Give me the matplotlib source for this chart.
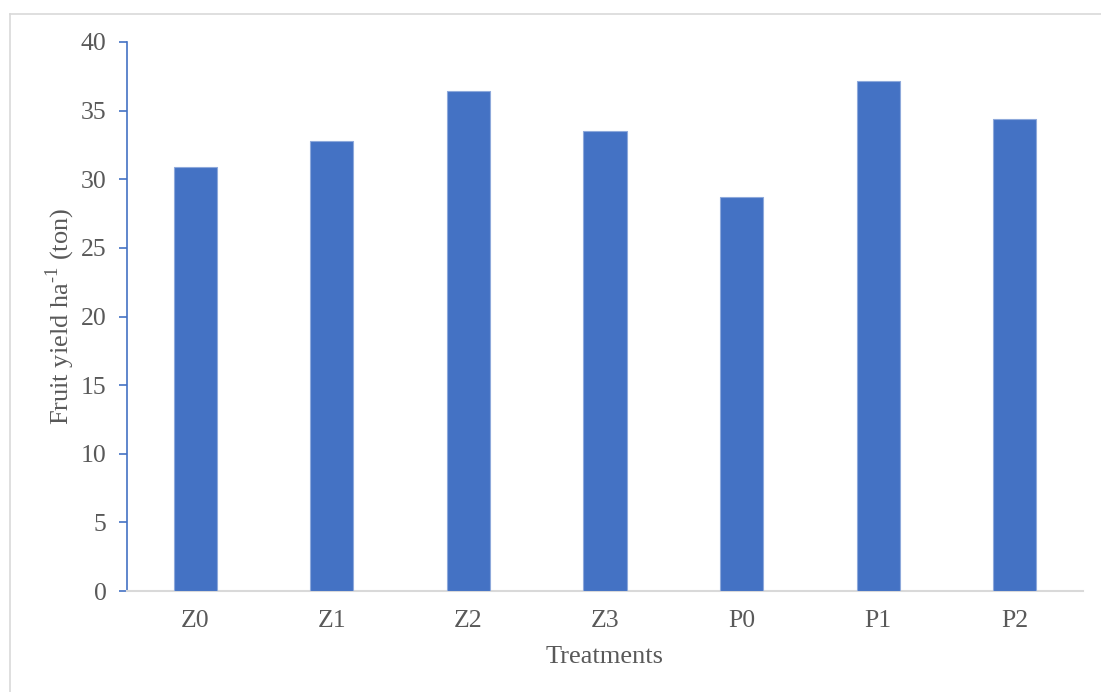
import matplotlib.pyplot as plt
from matplotlib.lines import Line2D

treatments = ["Z0", "Z1", "Z2", "Z3", "P0", "P1", "P2"]
fruit_yield = [30.87, 32.77, 36.41, 33.5, 28.68, 37.14, 34.37]
y_ticks = [0, 5, 10, 15, 20, 25, 30, 35, 40]

plt.rcParams["font.family"] = ["Liberation Serif", "DejaVu Serif"]
plt.rcParams["mathtext.fontset"] = "custom"
plt.rcParams["mathtext.rm"] = "Liberation Serif"

W, H = 1101, 692
fig = plt.figure(figsize=(W / 100, H / 100), dpi=100)
ax = fig.add_axes([127 / W, (H - 591) / H, (1083 - 127) / W, (591 - 42) / H])

blue = "#4472C4"
grey_txt = "#595959"

x = range(len(treatments))
ax.bar(x, fruit_yield, width=0.315, color=blue, edgecolor="#8EA9DB", linewidth=0.8, zorder=3)

ax.set_xlim(-0.5, len(treatments) - 0.5)
ax.set_ylim(0, 40)
ax.set_yticks(y_ticks)
ax.set_xticks(list(x))
ax.set_xticklabels(treatments)

for s in ["top", "right"]:
    ax.spines[s].set_visible(False)
ax.spines["left"].set_color(blue)
ax.spines["left"].set_linewidth(1.2)
ax.spines["bottom"].set_color("#D9D9D9")
ax.spines["bottom"].set_linewidth(1.5)

ax.tick_params(axis="y", colors=blue, length=5.8, width=1.2, labelcolor=grey_txt, labelsize=18.5, pad=9)
ax.tick_params(axis="x", length=0, labelcolor=grey_txt, labelsize=18.5, pad=14)

ax.set_ylabel("Fruit yield ha$^{\\text{-1}}$ (ton)", fontsize=19, color=grey_txt, labelpad=3)
ax.set_xlabel("Treatments", fontsize=19, color=grey_txt, labelpad=10)

# outer chart frame (only top and left edges visible)
fig.add_artist(Line2D([10 / W, 1.0], [1 - 13.5 / H, 1 - 13.5 / H], color="#D9D9D9", lw=1.2))
fig.add_artist(Line2D([10 / W, 10 / W], [0, 1 - 13.5 / H], color="#D9D9D9", lw=1.2))

fig.savefig("out.png", dpi=100)
